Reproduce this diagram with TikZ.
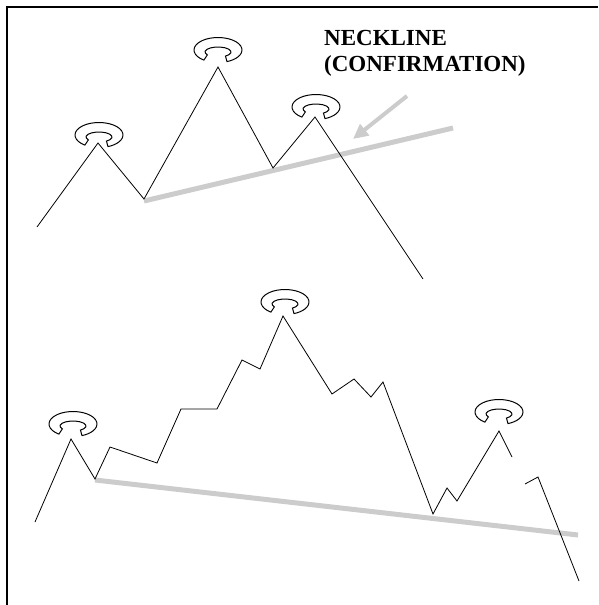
\documentclass[tikz,border=0pt]{standalone}
\usepackage{fontspec}
\setmainfont{Liberation Serif}
\usetikzlibrary{arrows.meta, calc}

\begin{document}
\begin{tikzpicture}[x=1pt, y=-1pt,
        >=Stealth,
        price/.style={line width=0.8pt, line join=miter},
        neck/.style={line width=5pt, draw=black!20},
        pointer/.style={-{Triangle[length=15pt, width=14pt]}, line width=4pt, draw=black!20, fill=black!20},
        caption/.style={anchor=north west, inner sep=0pt, align=left,
                      font=\fontsize{23}{26}\selectfont\bfseries},
        headmark/.pic={
          \draw[line width=1pt] (126:24 and 12.5)
            arc[start angle=126, end angle=428, x radius=24, y radius=12.5]
            -- ([shift={(0,2)}]55:13 and 5)
            arc[start angle=55, end angle=-215, x radius=13, y radius=5]
            -- cycle;
        },
      ]
        \useasboundingbox (0,0) rectangle (598,605);
        \draw[line width=1.6pt] (7,605) -- (7,7) -- (598,7);

        % upper pattern
        \coordinate (ls) at (98,143);
        \coordinate (t1) at (144,199);
        \coordinate (hd) at (218,67);
        \coordinate (t2) at (273,168);
        \coordinate (rs) at (315,117);
        \coordinate (nl1) at (144,201);
        \coordinate (nl2) at (453,128);
        \draw[neck] (nl1) -- (nl2);
        \draw[price] (37,227) -- (ls) -- (t1) -- (hd) -- (t2) -- (rs) -- (423,279);
        \pic at ($(ls)+(1,-8)$) {headmark};
        \pic at ($(hd)+(0,-17)$) {headmark};
        \pic at ($(rs)+(1,-10)$) {headmark};

        \node[caption] (lbl) at (324,30) {NECKLINE\\(CONFIRMATION)};
        \coordinate (tail) at (407,96);
        \coordinate (tip) at (353,139);
        \draw[pointer] (tail) -- (tip);

        % lower pattern
        \coordinate (bls) at (71,439);
        \coordinate (bhd) at (283,316);
        \coordinate (brs) at (499,431);
        \coordinate (bnl1) at (95,480);
        \coordinate (bnl2) at (578,535);
        \draw[neck] (bnl1) -- (bnl2);
        \draw[price] (35,522) -- (bls) -- (95,479) -- (110,447) -- (157,463) -- (181,409)
          -- (217,409) -- (242,360) -- (260,369) -- (bhd) -- (332,394) -- (354,379)
          -- (371,397) -- (383,382) -- (433,514) -- (447,488) -- (457,501) -- (brs) -- (512,457);
        \draw[price] (525,484) -- (538,477) -- (579,581);
        \pic at ($(bls)+(2,-15)$) {headmark};
        \pic at ($(bhd)+(2,-14)$) {headmark};
        \pic at ($(brs)+(0,-19)$) {headmark};
\end{tikzpicture}
\end{document}
